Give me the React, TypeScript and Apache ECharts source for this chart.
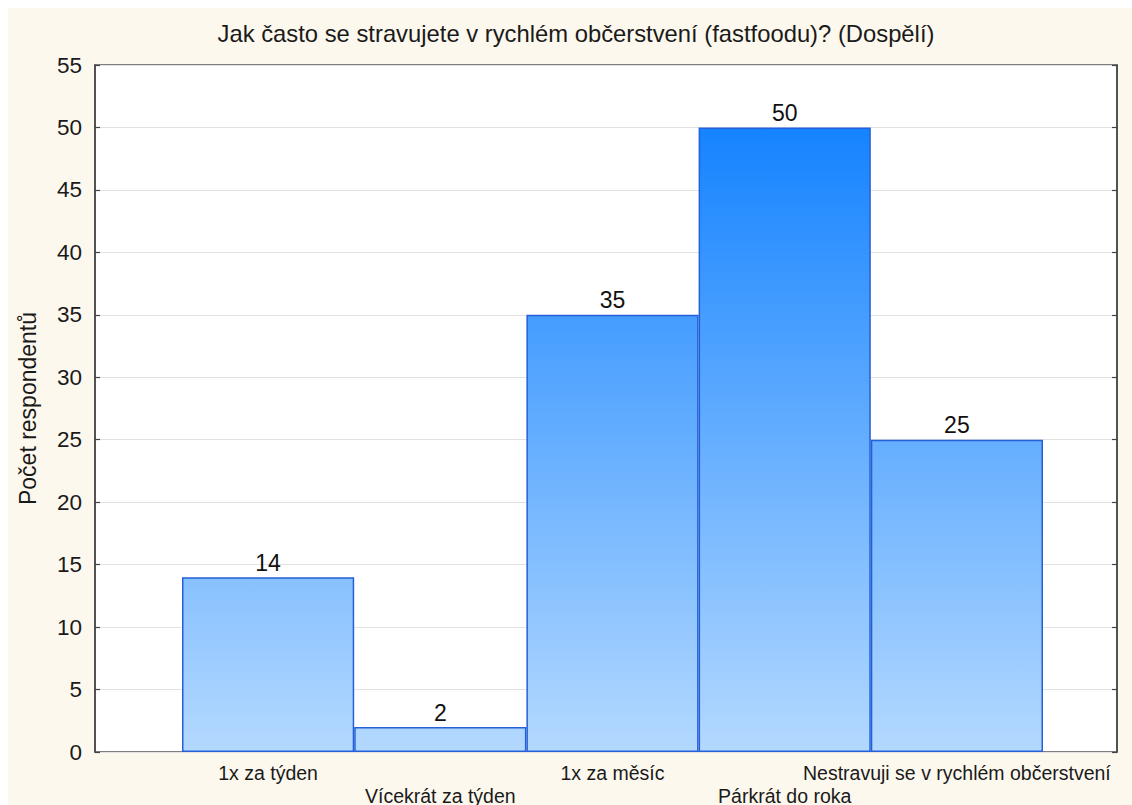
import React, { useEffect, useRef } from "react";
import * as echarts from "echarts";

const titleText = "Jak často se stravujete v rychlém občerstvení (fastfoodu)? (Dospělí)";
const yAxisName = "Počet respondentů";
const categories = [
  "1x za týden",
  "Vícekrát za týden",
  "1x za měsíc",
  "Párkrát do roka",
  "Nestravuji se v rychlém občerstvení",
];
const values = [14, 2, 35, 50, 25];
const yMin = 0;
const yMax = 55;
const yInterval = 5;

const FONT = "'Liberation Sans', Arial, sans-serif";

export default function App() {
  const ref = useRef<HTMLDivElement>(null);
  useEffect(() => {
    if (!ref.current) return;
    const chart = echarts.init(ref.current, null, { renderer: "svg" });
    const frameTop = 57;
    const frameBottom = 53;
    const barFill = new echarts.graphic.LinearGradient(
      0,
      119,
      0,
      744,
      [
        { offset: 0, color: "#1583ff" },
        { offset: 1, color: "#b4d9ff" },
      ],
      true
    );
    chart.setOption({
      animation: false,
      backgroundColor: "#fdf8ee",
      textStyle: { fontFamily: FONT },
      graphic: [
        {
          type: "text",
          x: 568,
          y: 25,
          style: {
            text: titleText,
            fontSize: 23.8,
            fontFamily: FONT,
            fill: "#1a1a1a",
            textAlign: "center",
            textVerticalAlign: "middle",
          },
        },
      ],
      grid: [
        {
          left: 87,
          right: 15,
          top: frameTop,
          bottom: frameBottom,
          outerBoundsMode: "none",
          containLabel: false,
          show: true,
          backgroundColor: "#ffffff",
          borderColor: "#555555",
          borderWidth: 1.5,
        },
        {
          left: 174,
          right: 89,
          top: frameTop,
          bottom: frameBottom,
          outerBoundsMode: "none",
          containLabel: false,
          show: false,
        },
      ],
      xAxis: [
        { type: "value", gridIndex: 0, min: 0, max: 1, show: false },
        {
          type: "category",
          gridIndex: 1,
          data: categories,
          axisLine: { show: false },
          axisTick: {
            show: true,
            inside: true,
            length: 5,
            alignWithLabel: true,
            lineStyle: { color: "#444", width: 1.2 },
          },
          axisLabel: {
            interval: 0,
            margin: 9,
            fontSize: 19.5,
            color: "#1a1a1a",
            fontFamily: FONT,
            lineHeight: 23,
            formatter: (v: string, i: number) => (i % 2 === 1 ? "\n" + v : v),
          },
        },
      ],
      yAxis: [
        {
          type: "value",
          gridIndex: 0,
          min: yMin,
          max: yMax,
          interval: yInterval,
          name: yAxisName,
          nameLocation: "middle",
          nameGap: 56,
          nameTextStyle: { fontSize: 23, color: "#1a1a1a", fontFamily: FONT },
          axisLine: { show: true, lineStyle: { color: "#444", width: 1.5 } },
          axisTick: { show: true, inside: true, length: 5, lineStyle: { color: "#444", width: 1.2 } },
          axisLabel: { fontSize: 22.5, color: "#1a1a1a", margin: 13, fontFamily: FONT },
          splitLine: { show: true, lineStyle: { color: "#e2e2e2", width: 1 } },
        },
        {
          type: "value",
          gridIndex: 0,
          position: "right",
          min: yMin,
          max: yMax,
          interval: yInterval,
          axisLine: { show: true, lineStyle: { color: "#444", width: 1.5 } },
          axisTick: { show: true, inside: true, length: 5, lineStyle: { color: "#444", width: 1.2 } },
          axisLabel: { show: false },
          splitLine: { show: false },
        },
        {
          type: "value",
          gridIndex: 1,
          min: yMin,
          max: yMax,
          interval: yInterval,
          show: false,
          splitLine: { show: false },
        },
      ],
      series: [
        {
          type: "bar",
          xAxisIndex: 1,
          yAxisIndex: 2,
          data: values,
          barCategoryGap: "0%",
          itemStyle: {
            color: barFill,
            borderColor: "#2460d8",
            borderWidth: 1.5,
          },
          label: {
            show: true,
            position: "top",
            distance: 3,
            fontSize: 23,
            color: "#111",
            fontFamily: FONT,
          },
        },
      ],
    });
    return () => chart.dispose();
  }, []);
  return (
    <div
      ref={ref}
      style={{ position: "absolute", left: 8, top: 8, width: 1124, height: 797 }}
    />
  );
}
